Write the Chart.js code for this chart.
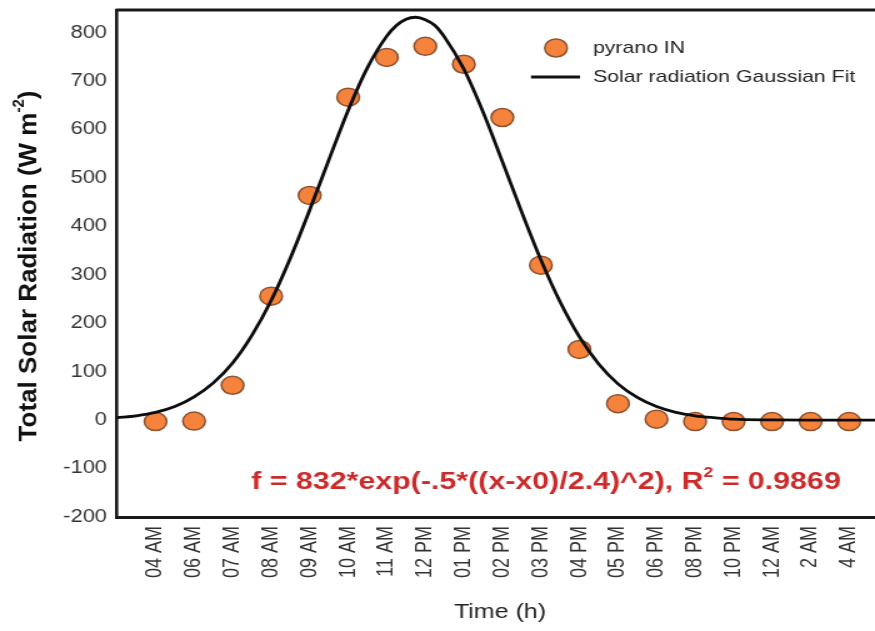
<!DOCTYPE html>
<html>
<head>
<meta charset="utf-8">
<script src="https://cdn.jsdelivr.net/npm/chart.js@4.4.1/dist/chart.umd.min.js"></script>
<style>
  html, body { margin: 0; padding: 0; background: #ffffff; overflow: hidden; }
  #chart { display: block; }
</style>
</head>
<body>
<canvas id="chart"></canvas>
<script>
// Hour labels along the time axis
const timeLabels = ['04 AM', '06 AM', '07 AM', '08 AM', '09 AM', '10 AM', '11 AM', '12 PM', '01 PM',
  '02 PM', '03 PM', '04 PM', '05 PM', '06 PM', '08 PM', '10 PM', '12 AM', '2 AM', '4 AM'];

// Measured pyranometer readings (W m-2), one per time label
const pyranoIN = [-3, -2, 72, 256, 464, 667, 749, 772, 735, 625, 320, 146, 34, 2, -3, -3, -3, -3, -3];

// Gaussian fit curve, sampled along the time index
const fitX = [-1, -0.5, 0, 0.5, 1, 1.5, 2, 2.5, 3, 3.5, 4, 4.5, 5, 5.5, 6, 6.25, 6.5, 6.75, 7, 7.25, 7.5, 8, 8.5,
  9, 9.5, 10, 10.5, 11, 11.5, 12, 12.5, 13, 13.5, 14, 14.5, 15, 16, 17, 18, 19];
const fitY = [5, 9, 16, 28, 48, 77, 118, 175, 247, 335, 434, 538, 640, 728, 793, 815, 828, 832, 827, 815, 791, 725, 636,
  534, 430, 331, 244, 172, 116, 75, 47, 28, 16, 9, 5, 2, 0.5, 0, 0, 0];

// Y axis tick values that carry a label
const yTickValues = [-200, -100, 0, 100, 200, 300, 400, 500, 600, 700, 800];

const fitLabel = 'f = 832*exp(-.5*((x-x0)/2.4)^2), R';
const fitStat = ' = 0.9869';

// The figure is drawn narrow and widened by CSS
const SX = 1.25;
const OUT_W = 875, OUT_H = 631;
const W = Math.round(OUT_W / SX);
const FONT = "'Liberation Sans', Arial, Helvetica, sans-serif";

const canvas = document.getElementById('chart');
canvas.width = W;
canvas.height = OUT_H;
canvas.style.width = OUT_W + 'px';
canvas.style.height = OUT_H + 'px';

const AXIS_LEFT = 117 / SX;
const AXIS_BOTTOM_SPACE = OUT_H - 517;

const decorations = {
  id: 'decorations',
  afterDraw(chart) {
    const ctx = chart.ctx;
    const area = chart.chartArea;
    ctx.save();

    // top frame line
    ctx.strokeStyle = '#1a1a1a';
    ctx.lineWidth = 3;
    ctx.beginPath();
    ctx.moveTo(area.left - 1, area.top);
    ctx.lineTo(W, area.top);
    ctx.stroke();

    // y axis title with superscript (kept at natural proportions)
    ctx.save();
    ctx.translate(29 / SX, 266);
    ctx.scale(1 / SX, 1);
    ctx.rotate(-Math.PI / 2);
    ctx.fillStyle = '#111111';
    ctx.textBaseline = 'middle';
    const big = 'bold 26px ' + FONT;
    const small = 'bold 15px ' + FONT;
    const p1 = 'Total Solar Radiation (W m';
    const p2 = '-2';
    const p3 = ')';
    ctx.font = big;
    const w1 = ctx.measureText(p1).width;
    const w3 = ctx.measureText(p3).width;
    ctx.font = small;
    const w2 = ctx.measureText(p2).width;
    let x = -(w1 + w2 + w3) / 2;
    ctx.font = big;
    ctx.textAlign = 'left';
    ctx.fillText(p1, x, 0);
    x += w1;
    ctx.font = small;
    ctx.fillText(p2, x, -9);
    x += w2;
    ctx.font = big;
    ctx.fillText(p3, x, 0);
    ctx.restore();

    // x axis title
    ctx.fillStyle = '#222222';
    ctx.font = '20px ' + FONT;
    ctx.textAlign = 'center';
    ctx.textBaseline = 'middle';
    ctx.fillText('Time (h)', 500 / SX, 612);

    // legend
    const lx = 556 / SX, ly = 48;
    ctx.beginPath();
    ctx.arc(lx, ly, 9, 0, Math.PI * 2);
    ctx.fillStyle = '#f5833c';
    ctx.fill();
    ctx.lineWidth = 1.5;
    ctx.strokeStyle = '#8c5232';
    ctx.stroke();
    ctx.beginPath();
    ctx.moveTo(531 / SX, 77);
    ctx.lineTo(580 / SX, 77);
    ctx.lineWidth = 3;
    ctx.strokeStyle = '#111111';
    ctx.stroke();
    ctx.fillStyle = '#222222';
    ctx.font = '17px ' + FONT;
    ctx.textAlign = 'left';
    ctx.fillText('pyrano IN', 593 / SX, ly);
    ctx.fillText('Solar radiation Gaussian Fit', 593 / SX, 77);

    // fit equation
    const fb = 'bold 24.3px ' + FONT;
    const fs = 'bold 14px ' + FONT;
    ctx.font = fb;
    const e1 = ctx.measureText(fitLabel).width;
    const e3 = ctx.measureText(fitStat).width;
    ctx.font = fs;
    const e2 = ctx.measureText('2').width;
    let ex = 546 / SX - (e1 + e2 + e3) / 2;
    const ey = 482;
    ctx.fillStyle = '#cc2b2b';
    ctx.textAlign = 'left';
    ctx.font = fb;
    ctx.fillText(fitLabel, ex, ey);
    ex += e1;
    ctx.font = fs;
    ctx.fillText('2', ex, ey - 9);
    ex += e2;
    ctx.font = fb;
    ctx.fillText(fitStat, ex, ey);

    ctx.restore();
  }
};

new Chart(canvas, {
  type: 'line',
  data: {
    datasets: [
      {
        label: 'Solar radiation Gaussian Fit',
        data: fitX.map((x, i) => ({ x: x, y: fitY[i] })),
        borderColor: '#0d0d0d',
        borderWidth: 2.8,
        pointRadius: 0,
        fill: false,
        cubicInterpolationMode: 'monotone',
        order: 0
      },
      {
        label: 'pyrano IN',
        data: pyranoIN.map((v, i) => ({ x: i, y: v })),
        showLine: false,
        pointRadius: 9,
        pointHoverRadius: 9,
        pointBackgroundColor: '#f5833c',
        pointBorderColor: '#8c5232',
        pointBorderWidth: 1.5,
        order: 1
      }
    ]
  },
  options: {
    responsive: false,
    animation: false,
    devicePixelRatio: 1,
    layout: { autoPadding: false, padding: { top: 10, right: 0, left: 0, bottom: 0 } },
    plugins: {
      legend: { display: false },
      tooltip: { enabled: false },
      title: { display: false }
    },
    scales: {
      x: {
        type: 'linear',
        min: -1,
        max: 18.67,
        grid: { display: false, drawTicks: false },
        border: { display: true, color: '#1a1a1a', width: 3 },
        afterFit(scale) {
          scale.height = AXIS_BOTTOM_SPACE;
          scale.paddingLeft = 0;
          scale.paddingRight = 0;
        },
        ticks: {
          stepSize: 1,
          includeBounds: false,
          autoSkip: false,
          minRotation: 90,
          maxRotation: 90,
          padding: 9,
          color: '#333333',
          font: { family: FONT, size: 18 },
          callback(value) {
            const i = Math.round(value);
            if (Math.abs(value - i) > 1e-6) return '';
            return timeLabels[i] !== undefined ? timeLabels[i] : '';
          }
        }
      },
      y: {
        min: -200,
        max: 847,
        grid: { display: false, drawTicks: false },
        border: { display: true, color: '#1a1a1a', width: 2.6 },
        afterFit(scale) {
          scale.width = AXIS_LEFT;
          scale.paddingTop = 0;
          scale.paddingBottom = 0;
        },
        ticks: {
          stepSize: 100,
          padding: 8,
          color: '#333333',
          font: { family: FONT, size: 17.5 },
          callback(value) {
            return yTickValues.includes(value) ? String(value) : '';
          }
        }
      }
    }
  },
  plugins: [decorations]
});
</script>
</body>
</html>
